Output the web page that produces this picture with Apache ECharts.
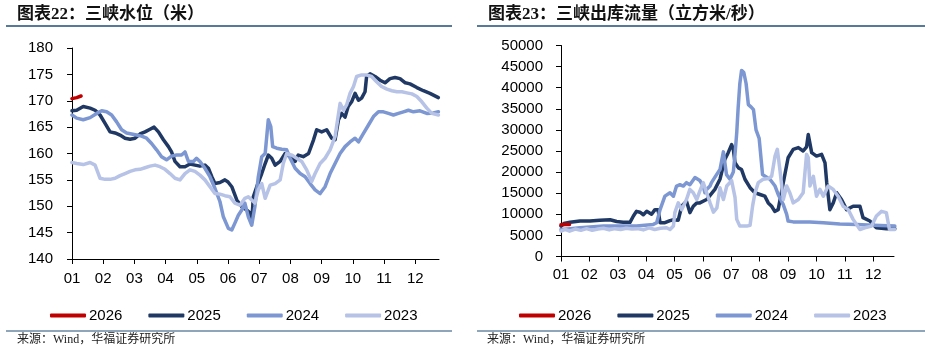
<!DOCTYPE html>
<html><head><meta charset="utf-8">
<script src="https://cdn.jsdelivr.net/npm/echarts@6/dist/echarts.min.js"></script>
<style>html,body{margin:0;padding:0;background:#fff;} #c{width:925px;height:350px;}</style>
</head><body><div id="c"></div>
<script>
// x values are months elapsed since 1 Jan (0 = "01" tick, 11 = "12" tick)
const monthLabels = ['01','02','03','04','05','06','07','08','09','10','11','12'];
const monthTicks = [0,1,2,3,4,5,6,7,8,9,10,11];
const seriesNames = ['2026','2025','2024','2023'];

// 三峡水位（米）
const level2026 = [[0,170.4],[0.15,170.6],[0.29,170.9]];
const level2025 = [[0,168.1],[0.15,168.2],[0.36,168.9],[0.58,168.6],[0.74,168.2],[0.9,167.3],[1.06,165.7],[1.22,164.1],[1.38,163.9],[1.54,163.5],[1.7,162.9],[1.86,162.7],[2.02,162.9],[2.18,163.7],[2.34,164.1],[2.5,164.6],[2.63,165.0],[2.77,164.1],[2.93,162.6],[3.09,161.3],[3.19,160.3],[3.3,158.5],[3.46,157.5],[3.62,157.5],[3.78,158.0],[3.94,157.8],[4.1,157.6],[4.26,157.8],[4.37,157.2],[4.48,155.6],[4.58,154.3],[4.74,154.5],[4.9,155.0],[5.0,154.6],[5.12,153.7],[5.28,151.2],[5.44,149.9],[5.6,149.3],[5.71,148.7],[5.76,147.0],[5.81,151.8],[5.92,153.7],[6.08,156.2],[6.19,158.1],[6.29,159.7],[6.4,159.1],[6.51,157.8],[6.67,158.5],[6.83,160.0],[6.99,159.4],[7.15,158.5],[7.25,159.7],[7.41,159.4],[7.58,160.0],[7.74,162.6],[7.84,164.5],[8.0,164.1],[8.16,164.5],[8.32,162.9],[8.43,162.6],[8.54,166.4],[8.64,167.6],[8.75,166.9],[8.85,168.9],[8.96,169.8],[9.07,171.4],[9.18,170.1],[9.28,170.5],[9.39,171.7],[9.44,174.6],[9.55,175.1],[9.71,174.6],[9.87,173.9],[10.03,173.4],[10.19,174.2],[10.35,174.4],[10.51,174.2],[10.68,173.4],[10.83,173.2],[11.05,172.5],[11.26,171.9],[11.47,171.4],[11.74,170.6]];
const level2024 = [[0,167.3],[0.15,166.7],[0.36,166.4],[0.58,166.8],[0.79,167.6],[0.95,168.1],[1.11,167.9],[1.27,167.3],[1.43,166.0],[1.59,164.5],[1.75,163.9],[1.91,163.7],[2.07,163.5],[2.23,163.3],[2.39,162.9],[2.55,161.9],[2.71,160.7],[2.87,159.4],[3.03,158.8],[3.19,159.5],[3.35,159.7],[3.51,159.7],[3.62,160.3],[3.73,158.5],[3.89,158.5],[3.99,159.1],[4.1,158.5],[4.26,157.2],[4.42,155.6],[4.58,153.4],[4.74,150.9],[4.85,148.0],[5.01,145.8],[5.12,145.5],[5.22,146.8],[5.33,148.3],[5.44,149.3],[5.54,150.6],[5.65,148.0],[5.76,146.4],[5.86,149.9],[5.97,155.6],[6.08,159.4],[6.19,160.0],[6.29,166.4],[6.37,165.1],[6.43,161.3],[6.56,161.0],[6.72,160.8],[6.88,160.7],[6.99,159.1],[7.15,157.2],[7.31,156.2],[7.47,155.6],[7.63,154.3],[7.79,153.1],[7.95,152.4],[8.11,153.7],[8.27,156.2],[8.43,158.1],[8.59,160.0],[8.75,161.3],[8.91,162.2],[9.07,162.9],[9.18,162.2],[9.34,163.8],[9.5,165.4],[9.66,167.0],[9.82,167.9],[9.98,167.9],[10.14,167.6],[10.3,167.3],[10.46,167.6],[10.62,167.9],[10.78,168.2],[10.94,167.9],[11.15,168.1],[11.37,167.6],[11.58,167.7],[11.74,167.9]];
const level2023 = [[0,158.3],[0.15,158.1],[0.36,157.9],[0.58,158.3],[0.74,157.8],[0.9,155.3],[1.06,155.1],[1.22,155.1],[1.38,155.3],[1.54,155.8],[1.7,156.2],[1.86,156.6],[2.02,156.9],[2.18,157.0],[2.34,157.3],[2.5,157.6],[2.66,157.8],[2.82,157.5],[2.98,157.0],[3.14,156.2],[3.3,155.3],[3.46,155.0],[3.62,156.2],[3.78,156.9],[3.94,156.6],[4.1,155.9],[4.26,155.0],[4.42,153.7],[4.58,152.4],[4.74,152.3],[4.9,152.0],[5.06,151.8],[5.22,150.6],[5.38,150.2],[5.54,151.5],[5.65,151.8],[5.76,151.2],[5.86,150.6],[5.97,153.1],[6.08,154.3],[6.19,151.5],[6.35,154.0],[6.51,154.3],[6.67,155.0],[6.77,158.1],[6.88,160.0],[7.04,159.7],[7.2,159.1],[7.36,158.5],[7.52,156.9],[7.68,154.7],[7.79,156.2],[7.95,158.1],[8.11,159.1],[8.27,160.7],[8.43,163.2],[8.59,169.5],[8.7,168.2],[8.8,169.2],[8.91,171.4],[9.02,172.7],[9.12,174.6],[9.28,174.9],[9.44,174.9],[9.6,174.6],[9.76,173.6],[9.92,172.7],[10.09,172.2],[10.25,171.9],[10.41,171.7],[10.57,171.7],[10.73,171.5],[10.89,171.3],[11.05,170.8],[11.21,169.8],[11.37,168.6],[11.53,167.6],[11.74,167.3]];

// 三峡出库流量（立方米/秒）
const flow2026 = [[0,7500],[0.15,7600],[0.3,7600]];
const flow2025 = [[0,7200],[0.1,7800],[0.32,8100],[0.67,8400],[1.02,8400],[1.37,8600],[1.73,8700],[1.96,8300],[2.19,8100],[2.43,8100],[2.55,9600],[2.66,10700],[2.78,10500],[2.9,9900],[3.02,10700],[3.19,10000],[3.31,11100],[3.42,11100],[3.49,8000],[3.66,8000],[3.84,8500],[3.96,8700],[4.13,8600],[4.25,11900],[4.42,13100],[4.54,10400],[4.66,11900],[4.78,12700],[4.89,12700],[5.13,13500],[5.42,15900],[5.6,18300],[5.77,23000],[5.89,24600],[6.01,26500],[6.07,25400],[6.13,22200],[6.25,21000],[6.36,20600],[6.48,18300],[6.66,16300],[6.83,15100],[7.01,14700],[7.18,14300],[7.3,12700],[7.42,11900],[7.53,10700],[7.65,11100],[7.83,17500],[8.0,23400],[8.18,25400],[8.36,25800],[8.53,25000],[8.65,26000],[8.71,28900],[8.83,24600],[9.0,23800],[9.18,24200],[9.3,22200],[9.36,17500],[9.47,11100],[9.59,12700],[9.71,15100],[9.88,13500],[10.06,11100],[10.29,11900],[10.53,11900],[10.64,9200],[10.88,8400],[11.11,6800],[11.46,6600],[11.76,6600]];
const flow2024 = [[0,6400],[0.32,6600],[0.67,6800],[1.02,7000],[1.5,7200],[2.0,7200],[2.66,7200],[3.25,7600],[3.37,8000],[3.49,11100],[3.66,14300],[3.84,15100],[3.96,14300],[4.07,16700],[4.19,17000],[4.31,16700],[4.42,17500],[4.54,17000],[4.72,18700],[4.89,18000],[5.01,16700],[5.07,15100],[5.13,15900],[5.25,16700],[5.3,17500],[5.48,19400],[5.6,20600],[5.72,24800],[5.83,19400],[5.95,18300],[6.07,20000],[6.13,24200],[6.19,29300],[6.24,35200],[6.3,41000],[6.36,44100],[6.44,43600],[6.52,41000],[6.6,36000],[6.7,35400],[6.78,34800],[6.87,30000],[6.98,28000],[7.04,27700],[7.1,19400],[7.19,19000],[7.36,18300],[7.54,16700],[7.65,14700],[7.83,12300],[7.95,10000],[8.0,8400],[8.18,8200],[8.77,8200],[9.24,8000],[9.82,7700],[10.41,7600],[11.0,7400],[11.76,7200]];
const flow2023 = [[0,6000],[0.15,6400],[0.3,6000],[0.5,6500],[0.7,6200],[0.9,6600],[1.1,6200],[1.3,6500],[1.5,6700],[1.7,6300],[1.9,6600],[2.1,6400],[2.3,6700],[2.5,6500],[2.7,6600],[2.9,6300],[3.1,6800],[3.3,6400],[3.5,6700],[3.72,6800],[3.84,6400],[3.96,7200],[4.01,10400],[4.13,12700],[4.25,11100],[4.42,13500],[4.54,15900],[4.66,15100],[4.78,13500],[4.89,15500],[5.01,17500],[5.13,15100],[5.25,12700],[5.37,10500],[5.49,11500],[5.6,16300],[5.72,13500],[5.84,16700],[6.01,18000],[6.13,14000],[6.19,8800],[6.3,7200],[6.54,7200],[6.66,7400],[6.75,12000],[6.83,15000],[6.95,17500],[7.12,18300],[7.3,18500],[7.42,19000],[7.54,23800],[7.62,25400],[7.71,20600],[7.83,13500],[7.95,16700],[8.06,15100],[8.18,12700],[8.36,13500],[8.53,15100],[8.65,24200],[8.71,23400],[8.77,16700],[8.89,19000],[9.0,14300],[9.12,15900],[9.24,14300],[9.41,16700],[9.59,15900],[9.76,14300],[9.94,11900],[10.12,11100],[10.29,8800],[10.53,6400],[10.7,6800],[10.94,7200],[11.11,9600],[11.29,10700],[11.46,10400],[11.57,6400],[11.76,6400]];

const levelSeries = [level2026, level2025, level2024, level2023];
const flowSeries = [flow2026, flow2025, flow2024, flow2023];
const colors = ['#C00000', '#1F3864', '#7D97D2', '#B6C2E6'];
const zOrder = [5, 2, 2, 2];

const FONT = "'Liberation Sans', Arial, sans-serif";
const CJK = "'Liberation Serif', 'Noto Sans CJK SC', serif";
const RULE = '#1F4E79';

function xAxisCfg(gridIndex, max, margin) {
  return {
    type: 'value', gridIndex: gridIndex, min: 0, max: max,
    axisLine: { show: true, onZero: false, lineStyle: { color: '#000', width: 1 } },
    axisTick: { show: true, inside: false, length: 5, customValues: monthTicks, lineStyle: { color: '#000' } },
    axisLabel: { customValues: monthTicks, formatter: v => monthLabels[Math.round(v)], fontSize: 15, color: '#000', margin: margin, fontFamily: FONT },
    splitLine: { show: false }
  };
}
function yAxisCfg(gridIndex, min, max, interval, margin) {
  return {
    type: 'value', gridIndex: gridIndex, min: min, max: max, interval: interval,
    axisLine: { show: true, lineStyle: { color: '#000', width: 1 } },
    axisTick: { show: true, inside: false, length: 5, lineStyle: { color: '#000' } },
    axisLabel: { fontSize: 15, color: '#000', margin: margin, fontFamily: FONT, formatter: v => String(v) },
    splitLine: { show: false }
  };
}
function legendCfg(left) {
  return {
    left: left, top: 303, orient: 'horizontal', selectedMode: false,
    icon: 'roundRect', itemWidth: 36, itemHeight: 4, itemGap: 26,
    textStyle: { fontSize: 15, color: '#000', fontFamily: FONT, padding: [0, 0, 0, -2] },
    data: seriesNames
  };
}

const series = [];
seriesNames.forEach((name, i) => {
  series.push({ name: name, type: 'line', xAxisIndex: 0, yAxisIndex: 0, data: levelSeries[i],
    showSymbol: false, symbol: 'none', lineStyle: { width: 3.5, color: colors[i], join: 'round', cap: 'round' }, itemStyle: { color: colors[i] }, z: zOrder[i] });
});
seriesNames.forEach((name, i) => {
  series.push({ name: name, type: 'line', xAxisIndex: 1, yAxisIndex: 1, data: flowSeries[i],
    showSymbol: false, symbol: 'none', lineStyle: { width: 3.5, color: colors[i], join: 'round', cap: 'round' }, itemStyle: { color: colors[i] }, z: zOrder[i] });
});

const chart = echarts.init(document.getElementById('c'), null, { renderer: 'canvas' });
chart.setOption({
  animation: false,
  backgroundColor: '#fff',
  grid: [
    { left: 72, top: 48, width: 367, height: 211 },
    { left: 561, top: 45.5, width: 333, height: 211 }
  ],
  xAxis: [xAxisCfg(0, 11.76, 12), xAxisCfg(1, 11.73, 11)],
  yAxis: [yAxisCfg(0, 140, 180, 5, 19), yAxisCfg(1, 0, 50000, 5000, 18)],
  legend: [legendCfg(45), legendCfg(514)],
  series: series,
  graphic: [
    { type: 'text', left: 17, top: 6, style: { text: '图表22：三峡水位（米）', fontSize: 17, fontWeight: 'bold', fontFamily: CJK, fill: '#111' } },
    { type: 'text', left: 488, top: 6, style: { text: '图表23：三峡出库流量（立方米/秒）', fontSize: 17, fontWeight: 'bold', fontFamily: CJK, fill: '#111' } },
    { type: 'line', shape: { x1: 6, y1: 26, x2: 452, y2: 26 }, style: { stroke: RULE, lineWidth: 1.5 } },
    { type: 'line', shape: { x1: 477, y1: 26, x2: 925, y2: 26 }, style: { stroke: RULE, lineWidth: 1.5 } },
    { type: 'line', shape: { x1: 6, y1: 331, x2: 452, y2: 331 }, style: { stroke: RULE, lineWidth: 1.2 } },
    { type: 'line', shape: { x1: 477, y1: 331, x2: 925, y2: 331 }, style: { stroke: RULE, lineWidth: 1.2 } },
    { type: 'text', left: 17, top: 334, style: { text: '来源：Wind，华福证券研究所', fontSize: 12, fontFamily: CJK, fill: '#222' } },
    { type: 'text', left: 487, top: 334, style: { text: '来源：Wind，华福证券研究所', fontSize: 12, fontFamily: CJK, fill: '#222' } }
  ]
});
</script>
</body></html>
